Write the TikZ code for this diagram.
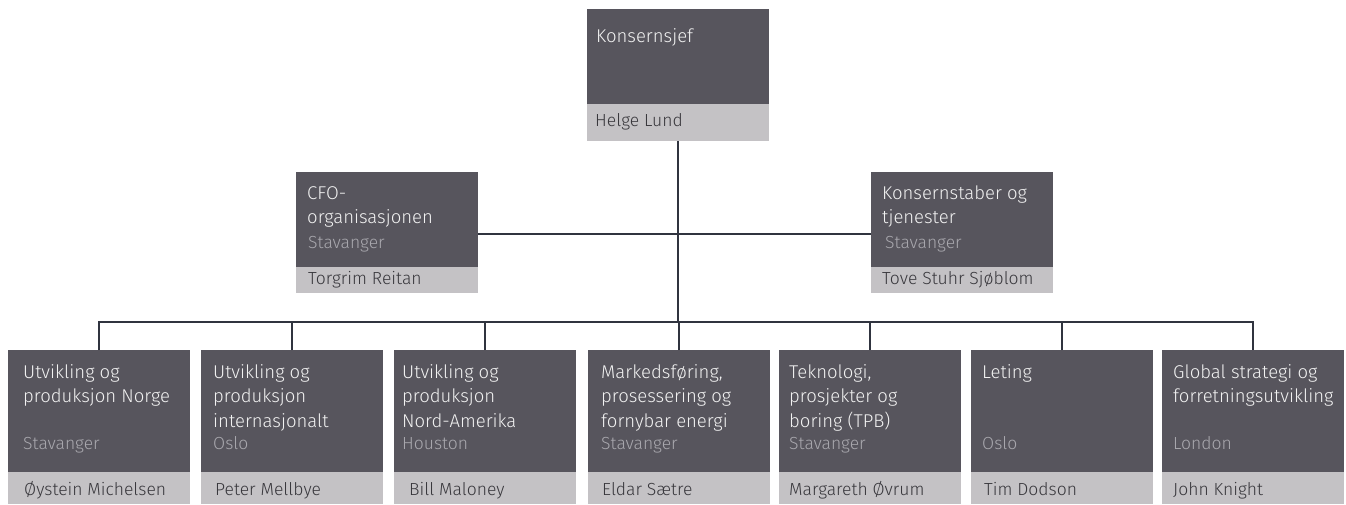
\documentclass[tikz,border=0pt]{standalone}
\usepackage{fontspec}
\setmainfont{Fira Sans}[UprightFont=* Light]
\usetikzlibrary{calc}
\definecolor{darkc}{HTML}{57555D}
\definecolor{lightc}{HTML}{C4C2C5}
\definecolor{linec}{HTML}{30343F}
\definecolor{loccol}{HTML}{A9A8AE}
\definecolor{titlecol}{HTML}{F2F2F2}
\definecolor{namecol}{HTML}{38373C}
\tikzset{
  darkbox/.style={fill=darkc, draw=none, anchor=north west, inner sep=0pt, outer sep=0pt, minimum width=182pt},
  namebox/.style={fill=lightc, draw=none, anchor=north west, inner sep=0pt, outer sep=0pt, minimum width=182pt},
  ttl/.style={text=titlecol, font=\fontsize{18.5}{22}\selectfont, anchor=base west, inner sep=0pt},
  loc/.style={text=loccol, font=\fontsize{17.5}{20}\selectfont, anchor=base west, inner sep=0pt},
  nm/.style={text=namecol, font=\fontsize{17.5}{21}\selectfont, anchor=base west, inner sep=0pt},
  conn/.style={draw=linec, line width=2.7pt},
}
\begin{document}
\begin{tikzpicture}[x=1pt,y=-1pt]
\useasboundingbox (0,0) rectangle (1346,504);
% top
\node[darkbox, minimum height=95pt] (ceo) at (587,9) {};
\node[namebox, minimum height=37pt] (ceon) at (587,104) {};
\node[ttl] (ceot) at (596,42) {Konsernsjef};
\node[nm] (ceonm) at (595,126) {Helge Lund};
% CFO
\node[darkbox, minimum height=95pt] (cfo) at (296,172) {};
\node[namebox, minimum height=26pt] (cfon) at (296,267) {};
\node[ttl] (cfot1) at (307,199) {CFO-};
\node[ttl] (cfot2) at (307,223.5) {organisasjonen};
\node[loc] (cfol) at (308,248) {Stavanger};
\node[nm] (cfonm) at (308,284) {Torgrim Reitan};
% Konsernstaber
\node[darkbox, minimum height=95pt] (ks) at (871,172) {};
\node[namebox, minimum height=26pt] (ksn) at (871,267) {};
\node[ttl] (kst1) at (882,199) {Konsernstaber og};
\node[ttl] (kst2) at (882,223.5) {tjenester};
\node[loc] (ksl) at (885,248) {Stavanger};
\node[nm] (ksnm) at (882,284) {Tove Stuhr Sjøblom};
% bottom row
\foreach \id/\x in {b1/8,b2/201,b3/394,b4/588,b5/779,b6/971,b7/1162}{
  \node[darkbox, minimum height=122pt] (\id) at (\x,350) {};
  \node[namebox, minimum height=32pt] (\id n) at (\x,472) {};
}
% box 1
\node[ttl] (b1t1) at (23,378) {Utvikling og};
\node[ttl] (b1t2) at (23,402.5) {produksjon Norge};
\node[loc] (b1l) at (23,449) {Stavanger};
\node[nm] (b1nm) at (24,495) {Øystein Michelsen};
% box 2
\node[ttl] (b2t1) at (213,378) {Utvikling og};
\node[ttl] (b2t2) at (213,402.5) {produksjon};
\node[ttl] (b2t3) at (213,427) {internasjonalt};
\node[loc] (b2l) at (213,449) {Oslo};
\node[nm] (b2nm) at (215,495) {Peter Mellbye};
% box 3
\node[ttl] (b3t1) at (402,378) {Utvikling og};
\node[ttl] (b3t2) at (402,402.5) {produksjon};
\node[ttl] (b3t3) at (402,427) {Nord-Amerika};
\node[loc] (b3l) at (402,449) {Houston};
\node[nm] (b3nm) at (409,495) {Bill Maloney};
% box 4
\node[ttl] (b4t1) at (601,378) {Markedsføring,};
\node[ttl] (b4t2) at (601,402.5) {prosessering og};
\node[ttl] (b4t3) at (601,427) {fornybar energi};
\node[loc] (b4l) at (601,449) {Stavanger};
\node[nm] (b4nm) at (602,495) {Eldar Sætre};
% box 5
\node[ttl] (b5t1) at (789,378) {Teknologi,};
\node[ttl] (b5t2) at (789,402.5) {prosjekter og};
\node[ttl] (b5t3) at (789,427) {boring (TPB)};
\node[loc] (b5l) at (789,449) {Stavanger};
\node[nm] (b5nm) at (789,495) {Margareth Øvrum};
% box 6
\node[ttl] (b6t1) at (982,378) {Leting};
\node[loc] (b6l) at (982,449) {Oslo};
\node[nm] (b6nm) at (984,495) {Tim Dodson};
% box 7
\node[ttl] (b7t1) at (1173,378) {Global strategi og};
\node[ttl] (b7t2) at (1173,402.5) {forretningsutvikling};
\node[loc] (b7l) at (1173,449) {London};
\node[nm] (b7nm) at (1173,495) {John Knight};
% connectors
\coordinate (bus) at (676,322);
\coordinate (mid) at (676,234);
\draw[conn] (ceon.south) -- (ceon.south |- bus);
\draw[conn] (mid -| cfo.east) -- (mid -| ks.west);
\draw[conn] (b1.north) -- (b1.north |- bus) -- (b7.north |- bus) -- (b7.north);
\foreach \id in {b2,b3,b4,b5,b6}{
  \draw[conn] (\id.north) -- (\id.north |- bus);
}
\end{tikzpicture}
\end{document}
